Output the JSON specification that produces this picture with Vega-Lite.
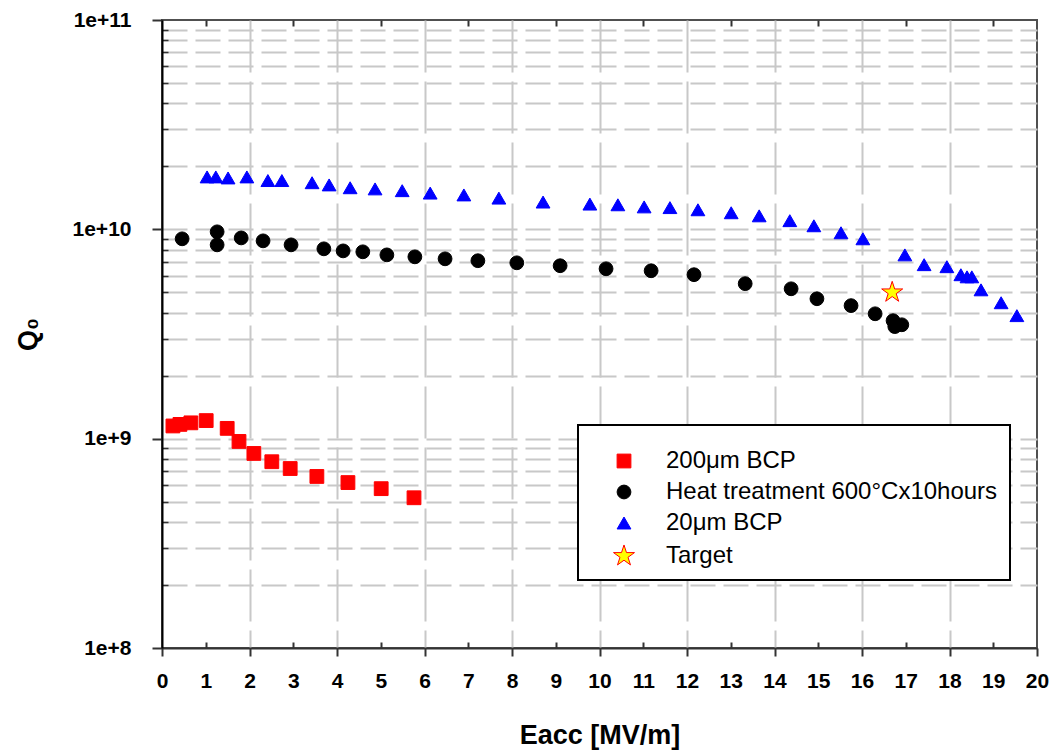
{
  "$schema": "https://vega.github.io/schema/vega-lite/v6.json",
  "width": 875,
  "height": 628,
  "autosize": "none",
  "padding": {"left": 162, "top": 20, "right": 14, "bottom": 106},
  "background": "white",
  "config": {"view": {"stroke": "#505050", "strokeWidth": 2}, "font": "Liberation Sans", "legend": {"strokeWidth": 2}},
  "data": {"values": [
    {"s": "200μm BCP", "x": 0.25, "q": 1.15e9},
    {"s": "200μm BCP", "x": 0.41, "q": 1.17e9},
    {"s": "200μm BCP", "x": 0.66, "q": 1.19e9},
    {"s": "200μm BCP", "x": 1.01, "q": 1.22e9},
    {"s": "200μm BCP", "x": 1.49, "q": 1.12e9},
    {"s": "200μm BCP", "x": 1.76, "q": 9.7e8},
    {"s": "200μm BCP", "x": 2.10, "q": 8.5e8},
    {"s": "200μm BCP", "x": 2.51, "q": 7.76e8},
    {"s": "200μm BCP", "x": 2.93, "q": 7.2e8},
    {"s": "200μm BCP", "x": 3.54, "q": 6.6e8},
    {"s": "200μm BCP", "x": 4.25, "q": 6.17e8},
    {"s": "200μm BCP", "x": 5.01, "q": 5.77e8},
    {"s": "200μm BCP", "x": 5.76, "q": 5.22e8},
    {"s": "Heat treatment 600°Cx10hours", "x": 0.46, "q": 9.01e9},
    {"s": "Heat treatment 600°Cx10hours", "x": 1.26, "q": 9.73e9},
    {"s": "Heat treatment 600°Cx10hours", "x": 1.26, "q": 8.43e9},
    {"s": "Heat treatment 600°Cx10hours", "x": 1.81, "q": 9.1e9},
    {"s": "Heat treatment 600°Cx10hours", "x": 2.31, "q": 8.81e9},
    {"s": "Heat treatment 600°Cx10hours", "x": 2.95, "q": 8.43e9},
    {"s": "Heat treatment 600°Cx10hours", "x": 3.70, "q": 8.07e9},
    {"s": "Heat treatment 600°Cx10hours", "x": 4.14, "q": 7.89e9},
    {"s": "Heat treatment 600°Cx10hours", "x": 4.59, "q": 7.81e9},
    {"s": "Heat treatment 600°Cx10hours", "x": 5.14, "q": 7.55e9},
    {"s": "Heat treatment 600°Cx10hours", "x": 5.78, "q": 7.39e9},
    {"s": "Heat treatment 600°Cx10hours", "x": 6.47, "q": 7.23e9},
    {"s": "Heat treatment 600°Cx10hours", "x": 7.22, "q": 7.08e9},
    {"s": "Heat treatment 600°Cx10hours", "x": 8.11, "q": 6.92e9},
    {"s": "Heat treatment 600°Cx10hours", "x": 9.10, "q": 6.70e9},
    {"s": "Heat treatment 600°Cx10hours", "x": 10.15, "q": 6.48e9},
    {"s": "Heat treatment 600°Cx10hours", "x": 11.18, "q": 6.34e9},
    {"s": "Heat treatment 600°Cx10hours", "x": 12.16, "q": 6.07e9},
    {"s": "Heat treatment 600°Cx10hours", "x": 13.33, "q": 5.50e9},
    {"s": "Heat treatment 600°Cx10hours", "x": 14.38, "q": 5.20e9},
    {"s": "Heat treatment 600°Cx10hours", "x": 14.97, "q": 4.66e9},
    {"s": "Heat treatment 600°Cx10hours", "x": 15.75, "q": 4.32e9},
    {"s": "Heat treatment 600°Cx10hours", "x": 16.30, "q": 3.95e9},
    {"s": "Heat treatment 600°Cx10hours", "x": 16.71, "q": 3.66e9},
    {"s": "Heat treatment 600°Cx10hours", "x": 16.75, "q": 3.43e9},
    {"s": "Heat treatment 600°Cx10hours", "x": 16.91, "q": 3.50e9},
    {"s": "20μm BCP", "x": 1.03, "q": 1.78e10},
    {"s": "20μm BCP", "x": 1.23, "q": 1.78e10},
    {"s": "20μm BCP", "x": 1.51, "q": 1.76e10},
    {"s": "20μm BCP", "x": 1.94, "q": 1.78e10},
    {"s": "20μm BCP", "x": 2.42, "q": 1.71e10},
    {"s": "20μm BCP", "x": 2.74, "q": 1.71e10},
    {"s": "20μm BCP", "x": 3.43, "q": 1.67e10},
    {"s": "20μm BCP", "x": 3.82, "q": 1.63e10},
    {"s": "20μm BCP", "x": 4.30, "q": 1.58e10},
    {"s": "20μm BCP", "x": 4.87, "q": 1.56e10},
    {"s": "20μm BCP", "x": 5.49, "q": 1.53e10},
    {"s": "20μm BCP", "x": 6.13, "q": 1.49e10},
    {"s": "20μm BCP", "x": 6.90, "q": 1.46e10},
    {"s": "20μm BCP", "x": 7.70, "q": 1.41e10},
    {"s": "20μm BCP", "x": 8.71, "q": 1.35e10},
    {"s": "20μm BCP", "x": 9.78, "q": 1.32e10},
    {"s": "20μm BCP", "x": 10.42, "q": 1.31e10},
    {"s": "20μm BCP", "x": 11.02, "q": 1.28e10},
    {"s": "20μm BCP", "x": 11.61, "q": 1.27e10},
    {"s": "20μm BCP", "x": 12.25, "q": 1.24e10},
    {"s": "20μm BCP", "x": 13.01, "q": 1.20e10},
    {"s": "20μm BCP", "x": 13.65, "q": 1.16e10},
    {"s": "20μm BCP", "x": 14.35, "q": 1.10e10},
    {"s": "20μm BCP", "x": 14.90, "q": 1.04e10},
    {"s": "20μm BCP", "x": 15.52, "q": 9.63e9},
    {"s": "20μm BCP", "x": 16.02, "q": 9.01e9},
    {"s": "20μm BCP", "x": 16.98, "q": 7.55e9},
    {"s": "20μm BCP", "x": 17.42, "q": 6.78e9},
    {"s": "20μm BCP", "x": 17.94, "q": 6.63e9},
    {"s": "20μm BCP", "x": 18.26, "q": 6.07e9},
    {"s": "20μm BCP", "x": 18.40, "q": 5.93e9},
    {"s": "20μm BCP", "x": 18.51, "q": 5.93e9},
    {"s": "20μm BCP", "x": 18.72, "q": 5.14e9},
    {"s": "20μm BCP", "x": 19.18, "q": 4.46e9},
    {"s": "20μm BCP", "x": 19.54, "q": 3.87e9},
    {"s": "Target", "x": 16.69, "q": 5.0e9}
  ]},
  "layer": [
    {
      "mark": {"type": "point", "opacity": 0},
      "encoding": {
        "x": {"field": "x", "type": "quantitative", "scale": {"domain": [0, 20], "nice": false, "zero": false},
          "axis": {"orient": "bottom", "values": [2, 4, 6, 8, 10, 12, 14, 16, 18], "labels": false, "domain": false, "ticks": false, "title": null,
            "grid": true, "gridColor": "#c8c8c8", "gridWidth": 2, "gridDash": [52, 9]}},
        "y": {"field": "q", "type": "quantitative", "scale": {"type": "log", "domain": [1e8, 1e11], "nice": false},
          "axis": {"orient": "left", "values": [2e8, 3e8, 4e8, 5e8, 6e8, 7e8, 8e8, 9e8, 1e9, 2e9, 3e9, 4e9, 5e9, 6e9, 7e9, 8e9, 9e9, 1e10, 2e10, 3e10, 4e10, 5e10, 6e10, 7e10, 8e10, 9e10],
            "labels": false, "domain": false, "ticks": false, "title": null,
            "grid": true, "gridColor": "#c8c8c8", "gridWidth": 2, "gridDash": [25, 8]}}
      }
    },
    {
      "mark": {"type": "point", "opacity": 0},
      "encoding": {
        "x": {"field": "x", "type": "quantitative",
          "axis": {"orient": "bottom", "values": [1, 3, 5, 7, 9, 11, 13, 15, 17, 19], "labels": false, "domain": false, "grid": false, "title": null, "tickSize": -6, "tickWidth": 2, "tickColor": "#333333"}},
        "y": {"field": "q", "type": "quantitative",
          "axis": {"orient": "left", "values": [2e8, 3e8, 4e8, 5e8, 6e8, 7e8, 8e8, 9e8, 2e9, 3e9, 4e9, 5e9, 6e9, 7e9, 8e9, 9e9, 2e10, 3e10, 4e10, 5e10, 6e10, 7e10, 8e10, 9e10],
            "labels": false, "domain": false, "grid": false, "title": null, "tickSize": -6, "tickWidth": 1.5, "tickColor": "#333333"}}
      }
    },
    {
      "mark": {"type": "point", "opacity": 0},
      "encoding": {
        "x": {"field": "x", "type": "quantitative",
          "axis": {"orient": "top", "values": [1, 3, 5, 7, 9, 11, 13, 15, 17, 19], "labels": false, "domain": false, "grid": false, "title": null, "tickSize": -6, "tickWidth": 2, "tickColor": "#333333"}},
        "y": {"field": "q", "type": "quantitative", "axis": null}
      }
    },
    {
      "mark": {"type": "point", "opacity": 0},
      "encoding": {
        "x": {"field": "x", "type": "quantitative",
          "axis": {"orient": "bottom", "values": [0, 1, 2, 3, 4, 5, 6, 7, 8, 9, 10, 11, 12, 13, 14, 15, 16, 17, 18, 19, 20], "format": "d",
            "title": "Eacc [MV/m]", "titleFontSize": 27, "titleFontWeight": "bold", "titleColor": "black", "titlePadding": 31,
            "labelFontSize": 21, "labelFontWeight": "bold", "labelColor": "black", "labelPadding": 22, "labelFlush": false, "labelOverlap": false,
            "ticks": false, "domain": false, "grid": false}},
        "y": {"field": "q", "type": "quantitative", "axis": null}
      }
    },
    {
      "mark": {"type": "point", "filled": true, "opacity": 1, "strokeWidth": 1, "size": 190},
      "encoding": {
        "x": {"field": "x", "type": "quantitative",
          "axis": {"orient": "bottom", "values": [0, 2, 4, 6, 8, 10, 12, 14, 16, 18, 20], "labels": false, "title": null,
            "tickSize": 8, "tickWidth": 2, "tickColor": "#333333", "domainColor": "#333333", "domainWidth": 2, "grid": false}},
        "y": {"field": "q", "type": "quantitative",
          "axis": {"orient": "left", "values": [1e8, 1e9, 1e10, 1e11], "labelExpr": "'1e+' + round(log(datum.value)/LN10)",
            "title": "Q₀", "titleFontSize": 27, "titleFontWeight": "bold", "titleColor": "black", "titlePadding": 30,
            "labelFontSize": 21, "labelFontWeight": "bold", "labelColor": "black", "labelPadding": 21, "labelFlush": false, "labelOverlap": false,
            "tickSize": 10, "tickWidth": 2, "tickColor": "#333333", "domainColor": "black", "domainWidth": 2, "grid": false}},
        "fill": {"field": "s", "type": "nominal",
          "scale": {"domain": ["200μm BCP", "Heat treatment 600°Cx10hours", "20μm BCP", "Target"], "range": ["#ff0000", "#000000", "#0000ff", "#ffff00"]},
          "legend": {"orient": "none", "legendX": 416, "legendY": 405, "title": " ", "titleFontSize": 1, "titlePadding": 11, "fillColor": "white", "strokeColor": "black",
            "padding": 12, "labelFontSize": 24, "labelColor": "black", "labelOffset": 30, "symbolOffset": 22, "symbolSize": 190, "rowPadding": 7, "labelLimit": 600, "symbolStrokeWidth": 1}},
        "stroke": {"field": "s", "type": "nominal",
          "scale": {"domain": ["200μm BCP", "Heat treatment 600°Cx10hours", "20μm BCP", "Target"], "range": ["#ff0000", "#000000", "#0000ff", "#ff0000"]}},
        "shape": {"field": "s", "type": "nominal",
          "scale": {"domain": ["200μm BCP", "Heat treatment 600°Cx10hours", "20μm BCP", "Target"], "range": ["square", "circle", "triangle-up", "M0,-1.6L0.359,-0.494L1.522,-0.494L0.581,0.189L0.941,1.294L0,0.611L-0.941,1.294L-0.581,0.189L-1.522,-0.494L-0.359,-0.494Z"]}}
      }
    }
  ],
  "resolve": {"axis": {"x": "independent", "y": "independent"}}
}
